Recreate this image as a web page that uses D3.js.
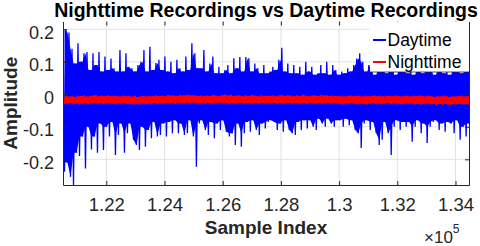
<!DOCTYPE html>
<html>
<head>
<meta charset="utf-8">
<script src="https://cdn.jsdelivr.net/npm/d3@7"></script>
<style>
  body { margin: 0; background: #fff; }
  text { font-family: "Liberation Sans", Arial, sans-serif; }
</style>
</head>
<body>
<script>
// sample index of first envelope column and spacing between columns
const sampleStart = 120512;
const sampleStep = 103;

// Daytime: upper / lower envelope per column
const dayUpper = [
  0.22, 0.2, 0.19, 0.14, 0.095, 0.157, 0.1, 0.126, 0.13, 0.075, 0.126, 0.09, 0.13, 0.07, 0.116, 0.075, 0.11, 0.08, 0.07, 0.136, 0.07, 0.126, 0.085,
  0.08, 0.07, 0.09, 0.1, 0.136, 0.07, 0.146, 0.075, 0.096, 0.106, 0.075, 0.116, 0.07, 0.1, 0.065, 0.106, 0.08, 0.07, 0.116, 0.075, 0.157, 0.126, 0.08,
  0.08, 0.136, 0.07, 0.095, 0.116, 0.065, 0.085, 0.065, 0.075, 0.09, 0.065, 0.111, 0.08, 0.115, 0.07, 0.115, 0.111, 0.07, 0.095, 0.08, 0.065, 0.09, 0.065,
  0.07, 0.085, 0.075, 0.106, 0.143, 0.07, 0.095, 0.065, 0.09, 0.065, 0.085, 0.06, 0.1, 0.07, 0.085, 0.06, 0.065, 0.09, 0.065, 0.1, 0.06, 0.09, 0.075,
  0.06, 0.07, 0.065, 0.08, 0.07, 0.09, 0.11, 0.126, 0.1, 0.07, 0.09, 0.09, 0.06, 0.1, 0.075, 0.095, 0.065, 0.1, 0.09, 0.06, 0.09, 0.075, 0.1,
  0.065, 0.09, 0.06, 0.1, 0.08, 0.065, 0.1, 0.075, 0.095, 0.06, 0.09, 0.1, 0.065, 0.09, 0.06, 0.095, 0.075, 0.1, 0.065, 0.09, 0.08
];
const dayLower = [
  -0.238, -0.21, -0.254, -0.279, -0.18, -0.19, -0.13, -0.228, -0.1, -0.17, -0.13, -0.18, -0.09, -0.171, -0.1, -0.13, -0.085, -0.187, -0.125, -0.09, -0.18, -0.12, -0.09,
  -0.14, -0.156, -0.171, -0.1, -0.161, -0.11, -0.135, -0.085, -0.13, -0.125, -0.09, -0.13, -0.085, -0.12, -0.08, -0.12, -0.09, -0.125, -0.12, -0.08, -0.13, -0.223, -0.09,
  -0.08, -0.11, -0.125, -0.085, -0.135, -0.09, -0.11, -0.08, -0.115, -0.13, -0.12, -0.156, -0.09, -0.161, -0.12, -0.085, -0.115, -0.08, -0.11, -0.125, -0.09, -0.105, -0.085,
  -0.08, -0.085, -0.11, -0.09, -0.115, -0.08, -0.11, -0.12, -0.125, -0.085, -0.11, -0.08, -0.105, -0.08, -0.1, -0.11, -0.075, -0.09, -0.1, -0.075, -0.09, -0.1, -0.08,
  -0.08, -0.1, -0.075, -0.095, -0.08, -0.11, -0.12, -0.165, -0.09, -0.08, -0.11, -0.085, -0.12, -0.156, -0.14, -0.085, -0.12, -0.187, -0.1, -0.08, -0.11, -0.085, -0.1,
  -0.085, -0.146, -0.1, -0.08, -0.12, -0.09, -0.15, -0.1, -0.085, -0.08, -0.11, -0.09, -0.115, -0.085, -0.09, -0.12, -0.08, -0.14, -0.1, -0.13, -0.09
];

// Nighttime: upper / lower envelope per column
const nightUpper = [
  -0.006, -0.004, -0.007, -0.005, -0.008, -0.004, -0.006, -0.003, -0.007, -0.005, -0.004, -0.002, -0.006, -0.004, -0.005, -0.003, -0.006, -0.004, -0.005, -0.007, -0.004, -0.006, -0.005,
  -0.007, -0.005, -0.008, -0.006, -0.004, -0.007, -0.005, -0.006, -0.003, -0.005, -0.004, -0.006, -0.002, -0.004, -0.003, -0.005, -0.002, -0.004, -0.003, -0.001, -0.004, -0.003, -0.005,
  -0.004, -0.006, -0.003, -0.005, -0.002, -0.004, -0.006, -0.003, -0.001, -0.004, -0.002, -0.005, -0.003, -0.004, -0.006, -0.003, -0.005, -0.002, -0.004, -0.006, -0.003, -0.005, -0.004,
  -0.005, -0.003, -0.006, -0.004, -0.002, -0.005, -0.003, -0.004, -0.006, -0.003, -0.005, -0.002, -0.004, -0.006, -0.004, -0.003, -0.005, -0.002, -0.004, -0.003, -0.005, -0.004, -0.006,
  -0.006, -0.004, -0.007, -0.005, -0.003, -0.006, -0.004, -0.005, -0.007, -0.004, -0.006, -0.005, -0.003, -0.006, -0.004, -0.007, -0.005, -0.004, -0.006, -0.003, -0.005, -0.007, -0.004,
  -0.005, -0.007, -0.004, -0.006, -0.003, -0.005, -0.007, -0.004, -0.006, -0.008, -0.005, -0.007, -0.004, -0.006, -0.008, -0.005, -0.007, -0.006, -0.004, -0.007, -0.006
];
const nightLower = [
  -0.029, -0.031, -0.027, -0.030, -0.028, -0.032, -0.029, -0.027, -0.030, -0.028, -0.026, -0.029, -0.027, -0.030, -0.028, -0.027, -0.029, -0.031, -0.028, -0.030, -0.027, -0.029, -0.030,
  -0.031, -0.029, -0.032, -0.028, -0.030, -0.029, -0.031, -0.027, -0.029, -0.028, -0.030, -0.026, -0.028, -0.027, -0.029, -0.025, -0.027, -0.028, -0.026, -0.028, -0.025, -0.027, -0.028,
  -0.027, -0.029, -0.026, -0.028, -0.030, -0.027, -0.025, -0.028, -0.026, -0.029, -0.027, -0.030, -0.028, -0.026, -0.029, -0.027, -0.028, -0.030, -0.027, -0.029, -0.026, -0.028, -0.027,
  -0.028, -0.026, -0.029, -0.027, -0.030, -0.028, -0.026, -0.029, -0.027, -0.028, -0.030, -0.027, -0.029, -0.026, -0.028, -0.030, -0.027, -0.029, -0.028, -0.026, -0.029, -0.027, -0.028,
  -0.029, -0.031, -0.028, -0.030, -0.027, -0.029, -0.031, -0.028, -0.030, -0.032, -0.029, -0.027, -0.030, -0.028, -0.031, -0.029, -0.027, -0.030, -0.028, -0.031, -0.029, -0.030, -0.028,
  -0.030, -0.028, -0.031, -0.029, -0.032, -0.030, -0.028, -0.031, -0.029, -0.033, -0.030, -0.032, -0.029, -0.031, -0.033, -0.030, -0.032, -0.029, -0.031, -0.030, -0.032
];

const xTicks = [122000, 124000, 126000, 128000, 130000, 132000, 134000];
const xTickLabels = ["1.22", "1.24", "1.26", "1.28", "1.3", "1.32", "1.34"];
const yTicks = [-0.2, -0.1, 0, 0.1, 0.2];
const yTickLabels = ["-0.2", "-0.1", "0", "0.1", "0.2"];
const seriesNames = ["Daytime", "Nighttime"];
const seriesColors = ["#0000ff", "#ff0000"];

const width = 480, height = 246;
const margin = { top: 21.5, right: 11, bottom: 61, left: 63 };
const plotW = width - margin.left - margin.right;
const plotH = height - margin.top - margin.bottom;

const svg = d3.select("body").append("svg")
  .attr("width", width)
  .attr("height", height);

const x = d3.scaleLinear().domain([120512, 134464]).range([margin.left, width - margin.right]);
const y = d3.scaleLinear().domain([-0.279, 0.224]).range([height - margin.bottom, margin.top]);

svg.append("clipPath").attr("id", "plotclip")
  .append("rect")
  .attr("x", margin.left).attr("y", margin.top)
  .attr("width", plotW).attr("height", plotH);

// grid
const grid = svg.append("g").attr("stroke", "#e3e3e3").attr("stroke-width", 1);
grid.selectAll("line.gx").data(xTicks).enter().append("line")
  .attr("x1", d => x(d)).attr("x2", d => x(d))
  .attr("y1", margin.top).attr("y2", height - margin.bottom);
grid.selectAll("line.gy").data(yTicks).enter().append("line")
  .attr("x1", margin.left).attr("x2", width - margin.right)
  .attr("y1", d => y(d)).attr("y2", d => y(d));

// zigzag between upper and lower value in each column
function zigzag(upper, lower) {
  const pts = [];
  upper.forEach((u, i) => {
    const s = sampleStart + i * sampleStep;
    pts.push([s, u]);
    pts.push([s + sampleStep / 2, lower[i]]);
  });
  return pts;
}

// part of each column that the trace always sweeps over (between neighbouring swings)
function core(upper, lower) {
  return upper.map((u, i) => {
    const j = Math.min(i + 1, upper.length - 1);
    return {
      s: sampleStart + i * sampleStep + sampleStep / 2,
      top: Math.min(u, upper[j]),
      bot: Math.max(lower[i], lower[j])
    };
  });
}

const line = d3.line().x(d => x(d[0])).y(d => y(d[1]));
const area = d3.area().x(d => x(d.s)).y0(d => y(d.bot)).y1(d => y(d.top));

const plot = svg.append("g").attr("clip-path", "url(#plotclip)");
[[dayUpper, dayLower], [nightUpper, nightLower]].forEach(([up, lo], k) => {
  plot.append("path")
    .datum(core(up, lo))
    .attr("fill", seriesColors[k])
    .attr("d", area);
  plot.append("path")
    .datum(zigzag(up, lo))
    .attr("fill", "none")
    .attr("stroke", seriesColors[k])
    .attr("stroke-width", k === 0 ? 1.3 : 1.6)
    .attr("d", line);
});

// axes, ticks pointing inward
const axisColor = "#262626";
const gx = svg.append("g")
  .attr("transform", `translate(0,${height - margin.bottom})`)
  .call(d3.axisBottom(x).tickValues(xTicks).tickFormat((d, i) => xTickLabels[i]).tickSizeInner(-4).tickSizeOuter(0));
gx.selectAll("text").attr("y", 13).attr("font-size", 18.5);

const gy = svg.append("g")
  .attr("transform", `translate(${margin.left},0)`)
  .call(d3.axisLeft(y).tickValues(yTicks).tickFormat((d, i) => yTickLabels[i]).tickSizeInner(-4).tickSizeOuter(0));
gy.selectAll("text").attr("x", -9).attr("dy", "0.5em").attr("font-size", 18);

const gTop = svg.append("g")
  .attr("transform", `translate(0,${margin.top})`)
  .call(d3.axisTop(x).tickValues(xTicks).tickFormat("").tickSizeInner(-4).tickSizeOuter(0));
gTop.select(".domain").remove();
svg.append("g")
  .attr("transform", `translate(${width - margin.right},0)`)
  .call(d3.axisRight(y).tickValues(yTicks).tickFormat("").tickSizeInner(-4).tickSizeOuter(0));

svg.selectAll(".domain, .tick line").attr("stroke", axisColor);
svg.selectAll(".tick text").attr("fill", axisColor);

// legend
const lg = svg.append("g");
lg.append("rect")
  .attr("x", 370).attr("y", margin.top + 0.5)
  .attr("width", width - margin.right - 370).attr("height", 50)
  .attr("fill", "#fff");
lg.append("line")
  .attr("x1", 370).attr("x2", width - margin.right)
  .attr("y1", 72).attr("y2", 72)
  .attr("stroke", axisColor).attr("stroke-width", 0.8);
seriesNames.forEach((name, i) => {
  const cy = 40 + i * 22;
  lg.append("line")
    .attr("x1", 373).attr("x2", 386)
    .attr("y1", cy).attr("y2", cy)
    .attr("stroke", seriesColors[i]).attr("stroke-width", 2);
  lg.append("text")
    .attr("x", 387.5).attr("y", cy).attr("dy", "0.36em")
    .attr("font-size", 17.5).attr("fill", "#000")
    .text(name);
});

// titles
svg.append("text")
  .attr("x", (margin.left + width - margin.right) / 2).attr("y", 17)
  .attr("text-anchor", "middle")
  .attr("font-size", 19.5).attr("font-weight", "bold").attr("fill", "#000")
  .text("Nighttime Recordings vs Daytime Recordings");

svg.append("text")
  .attr("x", (margin.left + width - margin.right) / 2).attr("y", 234)
  .attr("text-anchor", "middle")
  .attr("font-size", 19).attr("font-weight", "bold").attr("fill", axisColor)
  .text("Sample Index");

svg.append("text")
  .attr("transform", `translate(17,${(margin.top + height - margin.bottom) / 2}) rotate(-90)`)
  .attr("text-anchor", "middle")
  .attr("font-size", 19).attr("font-weight", "bold").attr("fill", axisColor)
  .text("Amplitude");

// exponent label
const ex = svg.append("text")
  .attr("x", 424).attr("y", 243)
  .attr("font-size", 17).attr("fill", axisColor);
ex.append("tspan").text("\u00d710");
ex.append("tspan").attr("dy", -10).attr("font-size", 12).text("5");
</script>
</body>
</html>
